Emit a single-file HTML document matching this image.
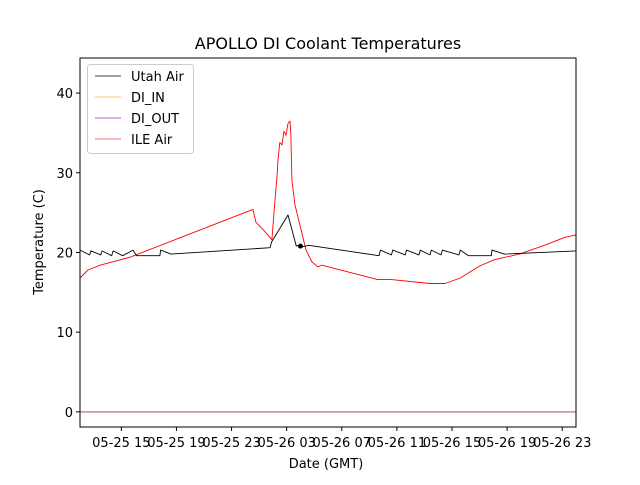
<!DOCTYPE html>
<html><head><meta charset="utf-8"><style>
body{margin:0;background:#fff}
svg text{font-family:"DejaVu Sans","Liberation Sans",sans-serif}
</style></head><body>
<svg id="chart" width="640" height="480" xmlns="http://www.w3.org/2000/svg">
<rect width="640" height="480" fill="#fff"/>
<text x="328" y="49" text-anchor="middle" font-size="16">APOLLO DI Coolant Temperatures</text>
<text x="326" y="468" text-anchor="middle" font-size="13">Date (GMT)</text>
<text transform="translate(43,242) rotate(-90)" text-anchor="middle" font-size="13">Temperature (C)</text>
<g id="plot"></g>
<rect x="80" y="58" width="496" height="369" fill="none" stroke="#000" stroke-width="1"/>
<g id="legend">
<rect x="87.5" y="64.5" width="106" height="89" rx="3" fill="#fff" fill-opacity="0.8" stroke="#ccc"/>
<line x1="95" y1="76" x2="121" y2="76" stroke="#000" stroke-width="0.8"/>
<text x="131" y="81" font-size="13">Utah Air</text>
<line x1="95" y1="97" x2="121" y2="97" stroke="#f5b041" stroke-width="0.8"/>
<text x="131" y="102" font-size="13">DI_IN</text>
<line x1="95" y1="118" x2="121" y2="118" stroke="#9b2fae" stroke-width="0.8"/>
<text x="131" y="123" font-size="13">DI_OUT</text>
<line x1="95" y1="139" x2="121" y2="139" stroke="#e8454b" stroke-width="0.8"/>
<text x="131" y="144" font-size="13">ILE Air</text>
</g>
</svg>
<script>
// hours since 05-25 12:00 GMT
const yTicks=[0,10,20,30,40];
const xTickHours=[3,7,11,15,19,23,27,31,35];
const xTickLabels=["05-25 15","05-25 19","05-25 23","05-26 03","05-26 07","05-26 11","05-26 15","05-26 19","05-26 23"];
const ileHours=[0,0.58,1.45,3.63,12.55,12.77,13.43,13.93,14.15,14.3,14.37,14.5,14.66,14.8,14.95,15.1,15.24,15.3,15.38,15.6,15.97,16.4,16.84,17.27,17.56,21.6,22.6,25.4,26.5,27.6,29.0,30.1,31.9,33.7,35.2,36];
const ileTemps=[16.8,17.8,18.4,19.4,25.4,23.8,22.6,21.6,26.6,29.5,31.6,33.8,33.5,35.2,34.7,36.2,36.5,35.0,29.1,26.0,23.4,20.3,18.8,18.2,18.4,16.6,16.6,16.1,16.1,16.8,18.3,19.1,19.8,20.9,21.9,22.2];
const utahHours=[0,0.7,0.8,1.5,1.6,2.3,2.4,3.1,3.85,4.1,5.8,5.85,6.6,13.8,13.9,15.1,15.7,16.0,16.1,16.6,21.7,21.8,22.6,22.7,23.6,23.7,24.6,24.7,25.4,25.5,26.2,26.3,27.5,27.6,28.2,29.85,29.9,30.8,36];
const utahTemps=[20.3,19.7,20.2,19.7,20.2,19.6,20.2,19.6,20.3,19.6,19.6,20.3,19.8,20.6,21.3,24.7,20.8,21.0,20.7,20.9,19.6,20.3,19.7,20.3,19.7,20.3,19.7,20.3,19.7,20.3,19.7,20.3,19.7,20.3,19.6,19.6,20.3,19.8,20.2];
const diInHours=[0,36];
const diInTemps=[0,0];
const diOutHours=[0,36];
const diOutTemps=[0,0];

const X0=80,X1=576,Y0=427,Y1=58,HMAX=36,TMIN=-1.9,TMAX=44.4;
function xs(h){return X0+(h/HMAX)*(X1-X0);}
function ys(t){return Y0-(t-TMIN)/(TMAX-TMIN)*(Y0-Y1);}
const NS="http://www.w3.org/2000/svg";
const svg=document.getElementById('chart');
const plot=document.getElementById('plot');
function mk(tag,attrs,parent){const e=document.createElementNS(NS,tag);for(const k in attrs)e.setAttribute(k,attrs[k]);(parent||svg).appendChild(e);return e;}
yTicks.forEach(t=>{
  const l=mk('line',{x1:X0-4,x2:X0,y1:ys(t),y2:ys(t),stroke:'#000'});
  
  
  const tx=mk('text',{x:X0-7,y:ys(t)+5,'text-anchor':'end','font-size':13});
  tx.textContent=t;
  
  
});
xTickHours.forEach((h,i)=>{
  const l=mk('line',{x1:xs(h),x2:xs(h),y1:Y0,y2:Y0+4,stroke:'#000'});
  
  
  const tx=mk('text',{x:xs(h),y:Y0+20,'text-anchor':'middle','font-size':13});
  tx.textContent=xTickLabels[i];
  
  
});
function line(hs,ts,color,w,name){
  const d=hs.map((h,i)=>(i?'L':'M')+xs(h).toFixed(1)+' '+ys(ts[i]).toFixed(1)).join(' ');
  const p=mk('path',{d:d,fill:'none',stroke:color,'stroke-width':w,'stroke-linejoin':'round'},plot);
  
  
}
line(ileHours,ileTemps,'#ff0000',0.9,'ile-air-line');
line(utahHours,utahTemps,'#000000',0.9,'utah-air-line');
line(diInHours,diInTemps,'#f5b041',0.8,'di-in-line');
line(diOutHours,diOutTemps,'#a0306a',0.9,'di-out-line');
const dot=mk('circle',{cx:xs(16.0),cy:ys(20.8),r:2.5,fill:'#000'},plot);


</script>
</body></html>
